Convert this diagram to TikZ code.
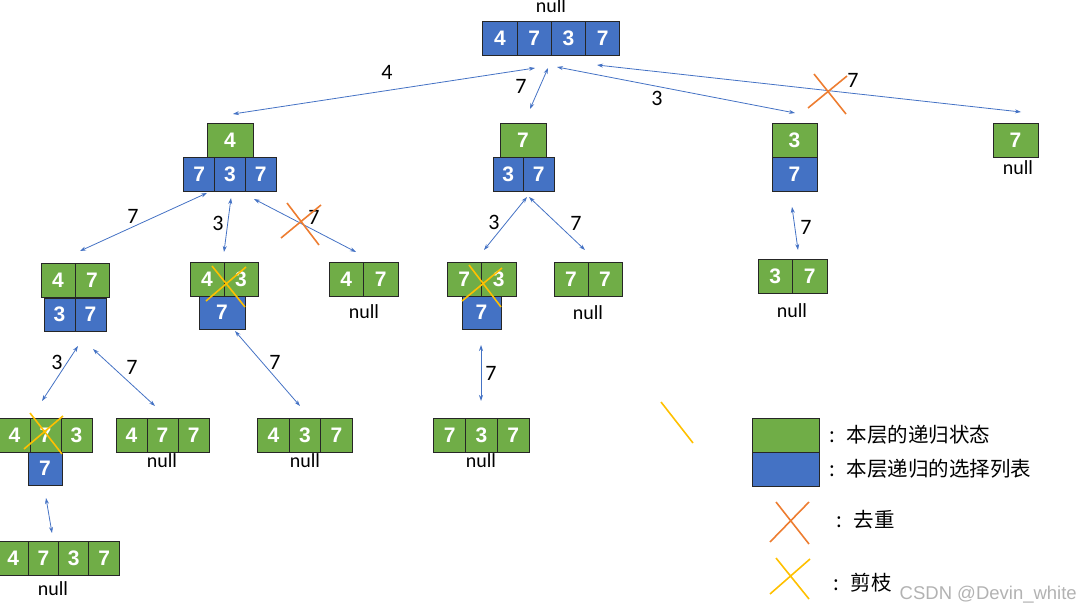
\documentclass[tikz,border=0pt]{standalone}
\usepackage{fontspec}
\setmainfont{Liberation Sans}
\newfontfamily\cjkfont{Noto Sans CJK SC}
\newfontfamily\labfont{Carlito}
\usetikzlibrary{arrows.meta}
\definecolor{stategreen}{HTML}{70AD47}
\definecolor{choiceblue}{HTML}{4472C4}
\definecolor{linkblue}{HTML}{4472C4}
\definecolor{dedupcol}{HTML}{ED7D31}
\definecolor{prunecol}{HTML}{FFC000}
\tikzset{
  cell/.style={draw=black!85, line width=1pt, text=white, inner sep=0pt,
    minimum height=34, font=\fontsize{21}{21}\selectfont\bfseries},
  scell/.style={cell, fill=stategreen},
  ccell/.style={cell, fill=choiceblue},
  link/.style={{Stealth[length=6pt,width=4pt]}-{Stealth[length=6pt,width=4pt]},
    draw=linkblue, line width=0.8pt},
  lab/.style={inner sep=0pt, font=\labfont\fontsize{20}{20}\selectfont},
  edgelab/.style={inner sep=0pt, font=\labfont\fontsize{22}{22}\selectfont},
  dedup/.style={draw=dedupcol, line width=1.6pt},
  prune/.style={draw=prunecol, line width=1.6pt},
  keytext/.style={anchor=west, inner sep=0pt, font=\cjkfont\fontsize{20.5}{20.5}\selectfont},
}
\begin{document}
\begin{tikzpicture}[x=1pt,y=-1pt]
  \useasboundingbox (0,0) rectangle (1084,613);
  % root
  \node[lab] (rnull) at (551,6) {null};
  \node[ccell, minimum width=34.25] (rc1) at (500,38) {4};
  \node[ccell, minimum width=34.25] (rc2) at (534.25,38) {7};
  \node[ccell, minimum width=34.25] (rc3) at (568.5,38) {3};
  \node[ccell, minimum width=34.25] (rc4) at (602.75,38) {7};
  % first level
  \node[scell, minimum width=46] (as1) at (230,140) {4};
  \node[ccell, minimum width=30.7] (ac1) at (199.3,174) {7};
  \node[ccell, minimum width=30.7] (ac2) at (230,174) {3};
  \node[ccell, minimum width=30.7] (ac3) at (260.7,174) {7};
  \node[scell, minimum width=46] (bs1) at (523,140) {7};
  \node[ccell, minimum width=30.5] (bc1) at (508.25,174) {3};
  \node[ccell, minimum width=30.5] (bc2) at (538.75,174) {7};
  \node[scell, minimum width=45] (cs1) at (794.5,140) {3};
  \node[ccell, minimum width=45] (cc1) at (794.5,174) {7};
  \node[scell, minimum width=45] (ds1) at (1015.5,140) {7};
  \node[lab] (dnull) at (1018,168) {null};
  % second level
  \node[scell, minimum width=34] (aas1) at (58,280) {4};
  \node[scell, minimum width=34] (aas2) at (92,280) {7};
  \node[ccell, minimum width=31, minimum height=33] (aac1) at (59.5,314.5) {3};
  \node[ccell, minimum width=31, minimum height=33] (aac2) at (90.5,314.5) {7};
  \node[scell, minimum width=34] (abs1) at (207,279) {4};
  \node[scell, minimum width=34] (abs2) at (241,279) {3};
  \node[ccell, minimum width=46, minimum height=33] (abc1) at (222,312.5) {7};
  \node[scell, minimum width=34.5] (acs1) at (346.25,279) {4};
  \node[scell, minimum width=34.5] (acs2) at (380.75,279) {7};
  \node[lab] (acnull) at (364,312) {null};
  \node[scell, minimum width=34.5] (bas1) at (464.25,279) {7};
  \node[scell, minimum width=34.5] (bas2) at (498.75,279) {3};
  \node[ccell, minimum width=39, minimum height=33] (bac1) at (481.5,312.5) {7};
  \node[scell, minimum width=34] (bbs1) at (571,279) {7};
  \node[scell, minimum width=34] (bbs2) at (605,279) {7};
  \node[lab] (bbnull) at (588,313) {null};
  \node[scell, minimum width=34.5] (cas1) at (775.25,276) {3};
  \node[scell, minimum width=34.5] (cas2) at (809.75,276) {7};
  \node[lab] (canull) at (792,311) {null};
  % third level
  \node[scell, minimum width=31] (aaas1) at (14.5,435) {4};
  \node[scell, minimum width=31] (aaas2) at (45.5,435) {7};
  \node[scell, minimum width=31] (aaas3) at (76.5,435) {3};
  \node[ccell, minimum width=34, minimum height=33] (aaac1) at (45,468.5) {7};
  \node[scell, minimum width=31] (aabs1) at (131.5,435) {4};
  \node[scell, minimum width=31] (aabs2) at (162.5,435) {7};
  \node[scell, minimum width=31.5] (aabs3) at (193.75,435) {7};
  \node[lab] (aabnull) at (162,461) {null};
  \node[scell, minimum width=31.5] (abas1) at (273.5,435) {4};
  \node[scell, minimum width=31.5] (abas2) at (305,435) {3};
  \node[scell, minimum width=31.5] (abas3) at (336.5,435) {7};
  \node[lab] (abanull) at (305,461) {null};
  \node[scell, minimum width=31.7] (baas1) at (449.8,435) {7};
  \node[scell, minimum width=31.7] (baas2) at (481.5,435) {3};
  \node[scell, minimum width=31.7] (baas3) at (513.2,435) {7};
  \node[lab] (baanull) at (481,461) {null};
  % fourth level
  \node[scell, minimum width=30.3] (aaaas1) at (13.2,558.5) {4};
  \node[scell, minimum width=30.3] (aaaas2) at (43.5,558.5) {7};
  \node[scell, minimum width=30.3] (aaaas3) at (73.8,558.5) {3};
  \node[scell, minimum width=30.3] (aaaas4) at (104.1,558.5) {7};
  \node[lab] (aaaanull) at (53,589) {null};
  % arrow ends
  \coordinate (r-a) at (535,68);   \coordinate (a-r) at (233,114);
  \coordinate (r-b) at (548,68);   \coordinate (b-r) at (530,109);
  \coordinate (r-c) at (557,67);   \coordinate (c-r) at (795,113);
  \coordinate (r-d) at (597,65);   \coordinate (d-r) at (1021,112);
  \coordinate (a-aa) at (207,193); \coordinate (aa-a) at (80,251);
  \coordinate (a-ab) at (231,198); \coordinate (ab-a) at (224,252);
  \coordinate (a-ac) at (254,199); \coordinate (ac-a) at (356,252);
  \coordinate (b-ba) at (527,197); \coordinate (ba-b) at (484,250);
  \coordinate (b-bb) at (529,197); \coordinate (bb-b) at (585,250);
  \coordinate (c-ca) at (792,207); \coordinate (ca-c) at (798,250);
  \coordinate (aa-aaa) at (78,346);  \coordinate (aaa-aa) at (42,401);
  \coordinate (aa-aab) at (93,349);  \coordinate (aab-aa) at (155,406);
  \coordinate (ab-aba) at (235,331); \coordinate (aba-ab) at (300,406);
  \coordinate (aaa-aaaa) at (46,498); \coordinate (aaaa-aaa) at (52,533);
  \coordinate (ba-baa) at (481,345); \coordinate (baa-ba) at (481,401);
  \draw[link] (r-a) -- (a-r);
  \draw[link] (r-b) -- (b-r);
  \draw[link] (r-c) -- (c-r);
  \draw[link] (r-d) -- (d-r);
  \draw[link] (a-aa) -- (aa-a);
  \draw[link] (a-ab) -- (ab-a);
  \draw[link] (a-ac) -- (ac-a);
  \draw[link] (b-ba) -- (ba-b);
  \draw[link] (b-bb) -- (bb-b);
  \draw[link] (c-ca) -- (ca-c);
  \draw[link] (aa-aaa) -- (aaa-aa);
  \draw[link] (aa-aab) -- (aab-aa);
  \draw[link] (ab-aba) -- (aba-ab);
  \draw[link] (aaa-aaaa) -- (aaaa-aaa);
  \draw[link] (ba-baa) -- (baa-ba);
  % edge labels
  \node[edgelab] (l-ra) at (387,72) {4};
  \node[edgelab] (l-rb) at (521,86) {7};
  \node[edgelab] (l-rc) at (657,98) {3};
  \node[edgelab] (l-rd) at (853,80) {7};
  \node[edgelab] (l-aa) at (133,216) {7};
  \node[edgelab] (l-ab) at (218,223) {3};
  \node[edgelab] (l-ac) at (314,217) {7};
  \node[edgelab] (l-ba) at (494,222) {3};
  \node[edgelab] (l-bb) at (576,223) {7};
  \node[edgelab] (l-ca) at (806,227) {7};
  \node[edgelab] (l-aaa) at (57,362) {3};
  \node[edgelab] (l-aab) at (132,367) {7};
  \node[edgelab] (l-aba) at (275,362) {7};
  \node[edgelab] (l-baa) at (491,373) {7};
  % crosses
  \draw[dedup] (808,108) -- (847,76) (814,74) -- (846,114);
  \draw[dedup] (281,238) -- (321,205) (287,203) -- (319,245);
  \draw[prune] (212,266) -- (245,307) (206,301) -- (246,267);
  \draw[prune] (469,265) -- (501,307) (462,301) -- (502,268);
  \draw[prune] (30,413) -- (62,454) (24,449) -- (63,416);
  \draw[prune] (661,402) -- (693,443);
  % legend
  \node[scell, minimum width=67] (key-s) at (786,435) {};
  \node[ccell, minimum width=67] (key-c) at (786,469) {};
  \node[keytext] (key-s-txt) at (829,435) {:\hspace{12pt}本层的递归状态};
  \node[keytext] (key-c-txt) at (829,469) {:\hspace{12pt}本层递归的选择列表};
  \draw[dedup] (770,542) -- (809,502) (776,502) -- (809,544);
  \node[keytext] (key-d-txt) at (836,520) {:\hspace{12pt}去重};
  \draw[prune] (770,594) -- (810,559) (776,558) -- (809,599);
  \node[keytext] (key-p-txt) at (833,583) {:\hspace{12pt}剪枝};
  \node[anchor=east, inner sep=0pt, text=black!30, font=\fontsize{18.5}{18.5}\selectfont] (mark) at (1077,595) {CSDN @Devin\_white};
\end{tikzpicture}
\end{document}
